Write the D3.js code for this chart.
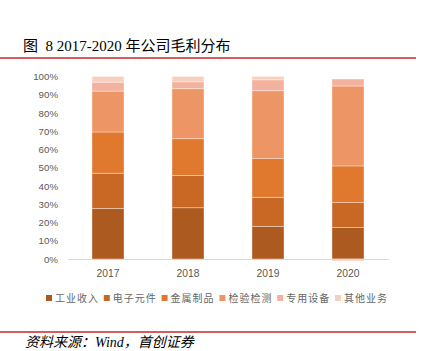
<!DOCTYPE html>
<html>
<head>
<meta charset="utf-8">
<script src="https://cdn.jsdelivr.net/npm/d3@7"></script>
<style>
  body { margin: 0; background: #fff; }
  svg { display: block; }
</style>
</head>
<body>
<svg width="423" height="351"></svg>
<script>
const years = ["2017", "2018", "2019", "2020"];
const seriesNames = ["工业收入", "电子元件", "金属制品", "检验检测", "专用设备", "其他业务"];
const gongye = [27.7, 28.1, 17.9, 17.2];
const dianzi = [19.3, 17.7, 15.9, 13.7];
const jinshu = [22.6, 20.1, 21.2, 20.1];
const jianyan = [22.4, 27.4, 37.2, 43.8];
const zhuanyong = [4.9, 3.8, 6.0, 3.8];
const qita = [3.1, 2.9, 1.8, -1.1];
const yTicks = [0, 10, 20, 30, 40, 50, 60, 70, 80, 90, 100];
const colors = ["#ad5a20", "#c96725", "#e0782e", "#ee9566", "#f3b29d", "#f8cfbf"];

const svg = d3.select("svg");

// title and red rules
svg.append("text")
    .attr("x", 23).attr("y", 51)
    .attr("font-family", "'Liberation Serif', 'Noto Sans CJK SC'")
    .attr("font-size", "15px")
    .attr("fill", "#000")
    .style("white-space", "pre")
    .text("图  8 2017-2020 年公司毛利分布");
svg.append("line").attr("x1", 0).attr("x2", 416).attr("y1", 58).attr("y2", 58)
    .attr("stroke", "#c8262b").attr("stroke-width", 1.5);
svg.append("line").attr("x1", 0).attr("x2", 416).attr("y1", 332).attr("y2", 332)
    .attr("stroke", "#c8262b").attr("stroke-width", 1.5);
svg.append("text")
    .attr("x", 25).attr("y", 347)
    .attr("font-family", "'Liberation Serif', 'Noto Sans CJK SC'")
    .attr("font-style", "italic")
    .attr("font-size", "14px")
    .attr("fill", "#000")
    .text("资料来源：Wind，首创证券");

const x = d3.scaleBand().domain(years).range([68, 388]).paddingInner(0.6).paddingOuter(0.3);
const y = d3.scaleLinear().domain([0, 100]).range([259, 76.5]);

// y tick labels
svg.append("g").selectAll("text")
    .data(yTicks).enter().append("text")
    .attr("x", 58)
    .attr("y", d => y(d) + 3.5)
    .attr("text-anchor", "end")
    .attr("font-family", "'Liberation Sans', Arial, sans-serif")
    .attr("font-size", "9.7px")
    .attr("fill", "#595959")
    .text(d => d + "%");

// stacked data, with negative values stacked below zero
const table = years.map((yr, i) => ({
    year: yr,
    values: [gongye[i], dianzi[i], jinshu[i], jianyan[i], zhuanyong[i], qita[i]]
}));
const segs = [];
table.forEach(row => {
    let pos = 0, neg = 0;
    row.values.forEach((v, k) => {
        if (v >= 0) { segs.push({ year: row.year, k: k, y0: pos, y1: pos + v }); pos += v; }
        else { segs.push({ year: row.year, k: k, y0: neg + v, y1: neg }); neg += v; }
    });
});

svg.append("g").selectAll("rect")
    .data(segs).enter().append("rect")
    .attr("x", d => x(d.year))
    .attr("width", x.bandwidth())
    .attr("y", d => y(d.y1))
    .attr("height", d => y(d.y0) - y(d.y1))
    .attr("fill", d => colors[d.k])
    .attr("stroke", "#fff")
    .attr("stroke-opacity", 0.45)
    .attr("stroke-width", 0.8);

// x axis line
svg.append("line").attr("x1", 68).attr("x2", 389).attr("y1", 259.5).attr("y2", 259.5)
    .attr("stroke", "#d9d9d9").attr("stroke-width", 1);

svg.append("g").selectAll("text")
    .data(years).enter().append("text")
    .attr("x", d => x(d) + x.bandwidth() / 2)
    .attr("y", 277)
    .attr("text-anchor", "middle")
    .attr("font-family", "'Liberation Sans', Arial, sans-serif")
    .attr("font-size", "10.3px")
    .attr("fill", "#595959")
    .text(d => d);

// legend
const legend = svg.append("g").selectAll("g")
    .data(seriesNames).enter().append("g")
    .attr("transform", (d, i) => "translate(" + (46 + i * 57.8) + ",300)");
legend.append("rect")
    .attr("x", 0).attr("y", -5).attr("width", 6).attr("height", 6)
    .attr("fill", (d, i) => colors[i]);
legend.append("text")
    .attr("x", 9).attr("y", 1.5)
    .attr("font-family", "'Noto Sans CJK SC', sans-serif")
    .attr("font-size", "10px")
    .attr("letter-spacing", "1px")
    .attr("fill", "#666")
    .text(d => d);
</script>
</body>
</html>
